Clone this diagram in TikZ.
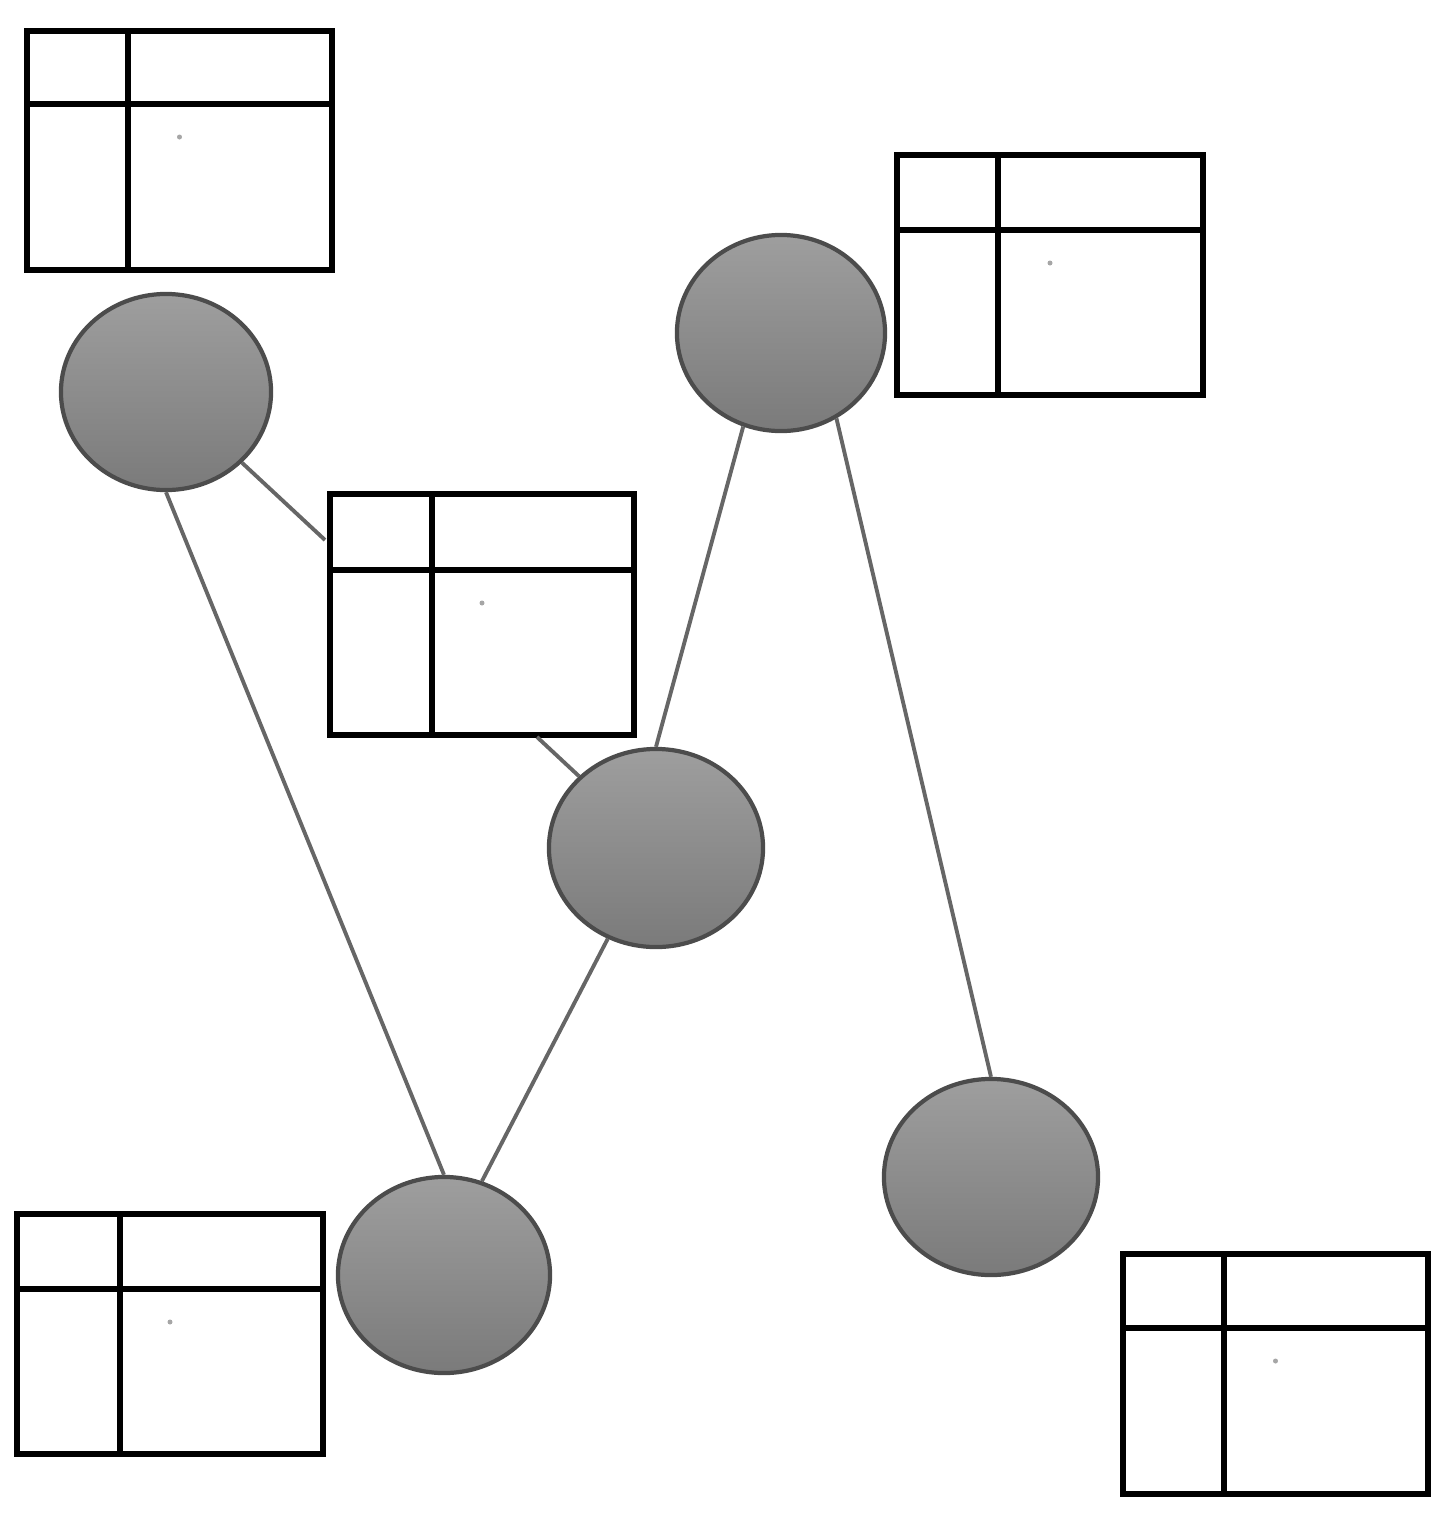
\documentclass[tikz,border=0pt]{standalone}
\usetikzlibrary{shapes.geometric}
\begin{document}
\begin{tikzpicture}[x=0.01cm,y=-0.01cm,
  ball/.style={ellipse,draw=black!70,line width=1.2pt,top color=black!38,bottom color=black!52,middle color=black!45,inner sep=0pt},
  tbl/.style={line width=1.9pt},
  link/.style={draw=black!60,line width=1.1pt}]
\useasboundingbox (0,0) rectangle (1455,1520);
\newcommand{\tabl}[6]{%
 \draw[tbl] (#1,#2) rectangle (#3,#4);
 \draw[tbl] (#5,#2) -- (#5,#4);
 \draw[tbl] (#1,#6) -- (#3,#6);
 \fill[black!35] ({(#1+#3)/2},{#6+33}) circle (2.5);}
\tabl{27}{31}{332}{270}{128}{104}
\tabl{897}{155}{1203}{395}{998}{230}
\tabl{330}{494}{634}{735}{432}{570}
\tabl{17}{1214}{323}{1454}{120}{1289}
\tabl{1123}{1254}{1428}{1494}{1224}{1328}
\coordinate (a) at (325,540);
\coordinate (b) at (537,737);
\node[ball,minimum width=2.1cm,minimum height=1.96cm] (C1) at (166,392) {};
\node[ball,minimum width=2.08cm,minimum height=1.96cm] (C2) at (781,333) {};
\node[ball,minimum width=2.14cm,minimum height=1.98cm] (C3) at (656,848) {};
\node[ball,minimum width=2.12cm,minimum height=1.96cm] (C4) at (444,1275) {};
\node[ball,minimum width=2.14cm,minimum height=1.96cm] (C5) at (991,1177) {};
\draw[link] (C1) -- (a);
\draw[link] (b) -- (C3);
\draw[link] (C1.south) -- (C4.north);
\draw[link] (C4.68) -- (C3.-118);
\draw[link] (C3.north) -- (C2.-112);
\draw[link] (C2.-57) -- (C5.north);
\end{tikzpicture}
\end{document}
